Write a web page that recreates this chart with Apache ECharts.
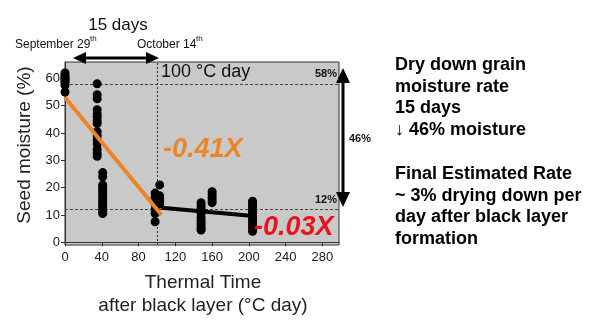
<!DOCTYPE html>
<html>
<head>
<meta charset="utf-8">
<script src="https://cdn.jsdelivr.net/npm/echarts@6/dist/echarts.min.js"></script>
<style>
  html, body { margin: 0; padding: 0; background: #ffffff; }
  #chart { width: 600px; height: 331px; }
</style>
</head>
<body>
<div id="chart"></div>
<script>
// Axis tick labels
const xTicks = [0, 40, 80, 120, 160, 200, 240, 280];
const yTicks = [0, 10, 20, 30, 40, 50, 60];

// Sampling times (thermal time after black layer, °C day)
const sampleTimes = [0, 35, 41, 98, 103, 148, 160, 204];

// Seed moisture readings (%) at each sampling time
const moistureAt0   = [62, 61, 60.5, 60, 59.5, 59, 58.5, 57.5, 55];
const moistureAt35  = [58, 54, 52.5, 48.5, 47, 46, 44.5, 43.5, 40.5, 39, 37.5, 36, 34, 32.5, 31.5];
const moistureAt41  = [25.5, 24, 21, 20, 19, 18, 17, 16, 15, 14, 13, 12, 11, 10.5];
const moistureAt98  = [18, 16.5, 14, 12, 10.5, 7.5];
const moistureAt103 = [21, 17, 16, 15, 14];
const moistureAt148 = [14.5, 13.5, 12.5, 11.5, 10.5, 9, 8, 7, 6, 5, 4.5];
const moistureAt160 = [18.5, 17.5, 16.5, 15.5, 14.5];
const moistureAt204 = [15, 14, 13, 12, 11, 10, 9, 8, 7, 6, 5, 4];

const moistureGroups = [moistureAt0, moistureAt35, moistureAt41, moistureAt98,
                        moistureAt103, moistureAt148, moistureAt160, moistureAt204];

// Fitted dry-down segments: before and after ~100 °C day
const fastDryDown = [[0, 53], [105, 10]];      // slope -0.41
const slowDryDown = [[105, 12.6], [205, 9.6]]; // slope -0.03

// Reference levels
const startLevel = 58;
const endLevel = 12;
const blackLayerTime = 100;

const points = [];
sampleTimes.forEach((t, i) => {
  moistureGroups[i].forEach(m => points.push([t, m]));
});

const FONT = '"Liberation Sans", Arial, sans-serif';
const ORANGE = '#ec8526';
const RED = '#e8141c';

const chart = echarts.init(document.getElementById('chart'), null, { renderer: 'canvas' });

const option = {
  animation: false,
  backgroundColor: '#ffffff',
  textStyle: { fontFamily: FONT },
  grid: {
    left: 65, top: 62, width: 274, height: 183,
    show: true, backgroundColor: '#c9c9c9', borderColor: '#333333', borderWidth: 1
  },
  xAxis: {
    type: 'value', min: 0, max: 298,
    axisLine: { show: true, lineStyle: { color: '#333', width: 1 } },
    axisTick: { show: true, length: 4, inside: false, customValues: xTicks, lineStyle: { color: '#333' } },
    axisLabel: { customValues: xTicks, margin: 6, fontSize: 13, color: '#1a1a1a', fontFamily: FONT },
    splitLine: { show: false }
  },
  yAxis: {
    type: 'value', min: -1, max: 66,
    axisLine: { show: true, lineStyle: { color: '#333', width: 1 } },
    axisTick: { show: true, length: 4, inside: false, customValues: yTicks, lineStyle: { color: '#333' } },
    axisLabel: { customValues: yTicks, margin: 5, fontSize: 13, color: '#1a1a1a', fontFamily: FONT },
    splitLine: { show: false }
  },
  series: [
    {
      type: 'scatter',
      data: points,
      symbol: 'circle',
      symbolSize: 9,
      itemStyle: { color: '#000000', opacity: 1 },
      z: 3,
      markLine: {
        silent: true,
        symbol: 'none',
        z: 2,
        data: [
          {
            yAxis: startLevel,
            lineStyle: { color: '#444', width: 1, type: [3, 2] },
            label: { show: true, position: 'insideEndTop', formatter: startLevel + '%', fontSize: 11,
                     fontWeight: 'bold', color: '#111', fontFamily: FONT, distance: [2, 4] }
          },
          {
            yAxis: endLevel,
            lineStyle: { color: '#444', width: 1, type: [3, 2] },
            label: { show: true, position: 'insideEndTop', formatter: endLevel + '%', fontSize: 11,
                     fontWeight: 'bold', color: '#111', fontFamily: FONT, distance: [2, 4] }
          },
          {
            xAxis: blackLayerTime,
            lineStyle: { color: '#333', width: 1, type: [2, 2] },
            label: { show: false }
          }
        ]
      }
    },
    {
      type: 'line',
      data: fastDryDown,
      symbol: 'none',
      lineStyle: { color: ORANGE, width: 4 },
      z: 4
    },
    {
      type: 'line',
      data: slowDryDown,
      symbol: 'none',
      lineStyle: { color: '#000000', width: 4 },
      z: 4
    }
  ],
  graphic: [
    // axis titles
    { type: 'text', x: 25, y: 145, rotation: Math.PI / 2,
      style: { text: 'Seed moisture (%)', font: '19px ' + FONT, fill: '#222', align: 'center', verticalAlign: 'middle' } },
    { type: 'text', x: 203, y: 283,
      style: { text: 'Thermal Time', font: '19px ' + FONT, fill: '#222', align: 'center', verticalAlign: 'middle' } },
    { type: 'text', x: 203, y: 306,
      style: { text: 'after black layer (°C day)', font: '19px ' + FONT, fill: '#222', align: 'center', verticalAlign: 'middle' } },

    // 15-day span above the plot
    { type: 'text', x: 118, y: 25,
      style: { text: '15 days', font: '17px ' + FONT, fill: '#111', align: 'center', verticalAlign: 'middle' } },
    { type: 'text', x: 15, y: 45,
      style: { text: 'September 29', font: '12px ' + FONT, fill: '#111', align: 'left', verticalAlign: 'middle' } },
    { type: 'text', x: 90, y: 39,
      style: { text: 'th', font: '8px ' + FONT, fill: '#111', align: 'left', verticalAlign: 'middle' } },
    { type: 'text', x: 137, y: 45,
      style: { text: 'October 14', font: '12px ' + FONT, fill: '#111', align: 'left', verticalAlign: 'middle' } },
    { type: 'text', x: 196, y: 39,
      style: { text: 'th', font: '8px ' + FONT, fill: '#111', align: 'left', verticalAlign: 'middle' } },
    { type: 'line', shape: { x1: 82, y1: 58, x2: 150, y2: 58 }, style: { stroke: '#000', lineWidth: 3 } },
    { type: 'polygon', shape: { points: [[73, 58], [86, 52], [86, 64]] }, style: { fill: '#000' } },
    { type: 'polygon', shape: { points: [[159, 58], [146, 52], [146, 64]] }, style: { fill: '#000' } },

    // 46% drop arrow at the right of the plot
    { type: 'line', shape: { x1: 343, y1: 80, x2: 343, y2: 195 }, style: { stroke: '#000', lineWidth: 3 } },
    { type: 'polygon', shape: { points: [[343, 68], [336, 83], [350, 83]] }, style: { fill: '#000' } },
    { type: 'polygon', shape: { points: [[343, 207], [336, 192], [350, 192]] }, style: { fill: '#000' } },
    { type: 'text', x: 349, y: 139,
      style: { text: '46%', font: 'bold 11px ' + FONT, fill: '#111', align: 'left', verticalAlign: 'middle' } },

    // in-plot annotations
    { type: 'text', x: 161, y: 72, z: 10,
      style: { text: '100 °C day', font: '18px ' + FONT, fill: '#111', align: 'left', verticalAlign: 'middle' } },
    { type: 'text', x: 163, y: 150, z: 10,
      style: { text: '-0.41X', font: 'italic bold 27px ' + FONT, fill: ORANGE, align: 'left', verticalAlign: 'middle' } },
    { type: 'text', x: 254, y: 228, z: 10,
      style: { text: '-0.03X', font: 'italic bold 27px ' + FONT, fill: RED, align: 'left', verticalAlign: 'middle' } },

    // summary text
    { type: 'text', x: 395, y: 54,
      style: {
        text: 'Dry down grain\nmoisture rate\n15 days\n↓ 46% moisture\n\nFinal Estimated Rate\n~ 3% drying down per\nday after black layer\nformation',
        font: 'bold 18px ' + FONT, fill: '#000', align: 'left', verticalAlign: 'top', lineHeight: 21.8
      } }
  ]
};

chart.setOption(option);
</script>
</body>
</html>
